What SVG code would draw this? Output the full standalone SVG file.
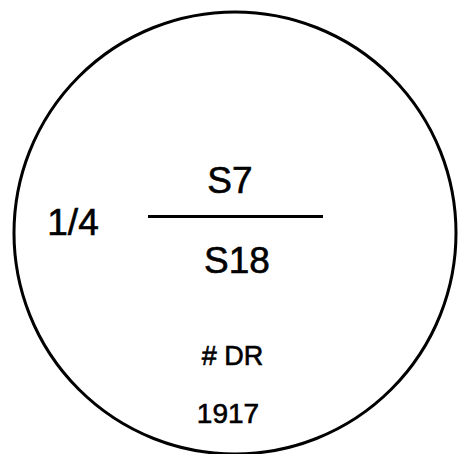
<svg xmlns="http://www.w3.org/2000/svg" width="458" height="454" viewBox="0 0 458 454">
<style>
.t{font-family:"Liberation Sans",Arial,sans-serif;fill:#000;stroke:#000;stroke-width:0.6;text-anchor:middle}
.big{font-size:37px}
</style>
<rect width="458" height="454" fill="#fff"/>
<g id="symbol">
<circle cx="235" cy="233" r="221" fill="none" stroke="#000" stroke-width="3"/>
</g>
<g id="connectors">
<line x1="148" y1="216.5" x2="323" y2="216.5" stroke="#000" stroke-width="3"/>
</g>
<g id="labels">
<text class="t big" x="230" y="193">S7</text>
<text class="t big" x="237" y="273">S18</text>
<text class="t big" x="73" y="235">1/4</text>
<text class="t" x="232.5" y="365" font-size="27" xml:space="preserve"># DR</text>
<text class="t" x="228" y="423" font-size="28">1917</text>
</g>
</svg>
